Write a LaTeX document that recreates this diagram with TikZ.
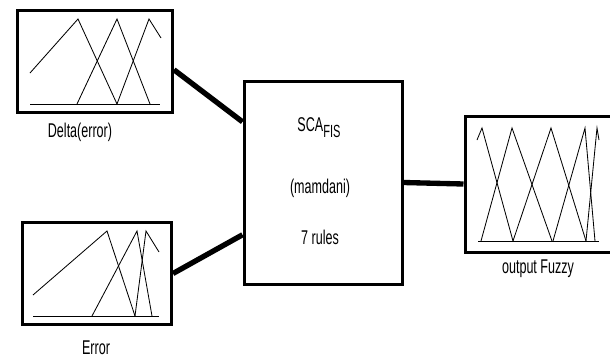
\documentclass[tikz,border=0pt]{standalone}
\usepackage{fontspec}
\newfontfamily\narrowsans[FakeStretch=0.63]{Liberation Sans}

\begin{document}
\begin{tikzpicture}[x=0.3mm, y=-0.3mm,
	block/.style={draw, line width=0.9mm, inner sep=0pt},
	link/.style={line width=1.6mm},
	mf/.style={line width=0.25mm},
	lbl/.style={font=\narrowsans\fontsize{17}{19}\selectfont, inner sep=0pt}]
	\useasboundingbox (0,0) rectangle (610,359);

	\node [block, minimum width=155*0.3mm, minimum height=102*0.3mm] (delta) at (95,61.5) {};
	\node [block, minimum width=149*0.3mm, minimum height=102*0.3mm] (err) at (97,273.5) {};
	\node [block, minimum width=158*0.3mm, minimum height=203*0.3mm] (fis) at (323,182.5) {};
	\node [block, minimum width=150*0.3mm, minimum height=136*0.3mm] (out) at (540,184) {};

	% membership functions
	\draw [mf] (30,104) -- (160,104);
	\draw [mf] (30,73) -- (78,19) -- (117,104);
	\draw [mf] (77,104) -- (117,19) -- (150,104);
	\draw [mf] (117,104) -- (149,19) -- (161,38);

	\draw [mf] (33,316) -- (159,316);
	\draw [mf] (33,295) -- (107,231) -- (135,316);
	\draw [mf] (92,316) -- (137,231) -- (152,316);
	\draw [mf] (135,316) -- (146,231) -- (159,252);

	\draw [mf] (478,241) -- (599,241);
	\draw [mf] (477,140) -- (482,128) -- (513,241);
	\draw [mf] (481,241) -- (512,128) -- (552,241);
	\draw [mf] (513,241) -- (551,128) -- (586,241);
	\draw [mf] (553,241) -- (585,128) -- (595,241);
	\draw [mf] (586,241) -- (597,128) -- (599,140);

	\node [lbl] (deltalbl) at (80,132) {Delta(error)};
	\node [lbl] (errlbl) at (96,348) {Error};
	\node [lbl] (outlbl) at (538,269) {output Fuzzy};
	\node [lbl] (sca) at (319,128) {SCA\raisebox{-0.55ex}{\fontsize{15}{17}\selectfont FIS}};
	\node [lbl] (mam) at (320,188) {(mamdani)};
	\node [lbl] (rules) at (320,237) {7 rules};

	\draw [link] (delta.-6.6) -- (fis.143.4);
	\draw [link] (err.east) -- (fis.-147.3);
	\draw [link] (fis.east) -- (out.west);
\end{tikzpicture}
\end{document}
